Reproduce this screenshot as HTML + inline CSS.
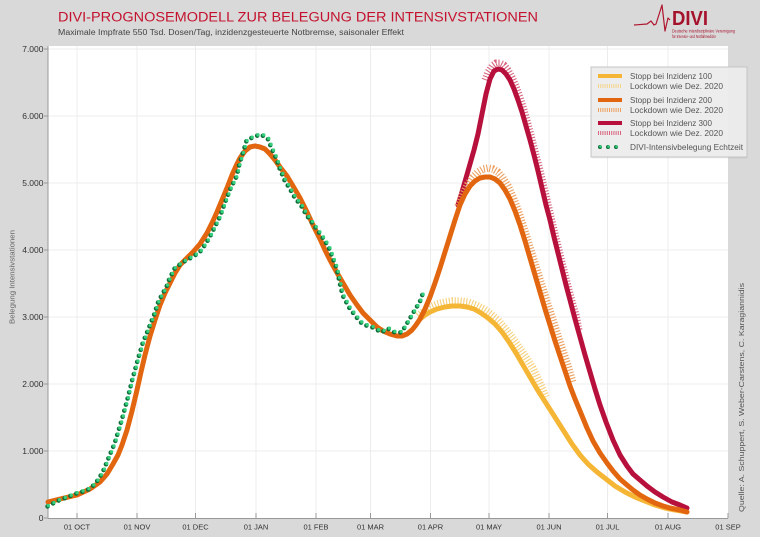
<!DOCTYPE html>
<html>
<head>
<meta charset="utf-8">
<style>
html,body{margin:0;padding:0;background:#d9d9d9;}
svg{display:block;}
text{font-family:"Liberation Sans",Arial,sans-serif;}
</style>
</head>
<body>
<svg width="760" height="537" viewBox="0 0 760 537" xmlns="http://www.w3.org/2000/svg">
<rect x="0" y="0" width="760" height="537" fill="#d9d9d9"/>
<!-- Title -->
<text x="58" y="21.5" font-size="13.5" fill="#c4122e" textLength="480" lengthAdjust="spacingAndGlyphs">DIVI-PROGNOSEMODELL ZUR BELEGUNG DER INTENSIVSTATIONEN</text>
<text x="58" y="35" font-size="8" fill="#444" textLength="346" lengthAdjust="spacingAndGlyphs">Maximale Impfrate 550 Tsd. Dosen/Tag, inzidenzgesteuerte Notbremse, saisonaler Effekt</text>
<!-- Logo -->
<polyline points="634,25 647,24 651,21 654,25 656,24 662,5 665,31 668,18 670,20" fill="none" stroke="#b0152e" stroke-width="1.2" stroke-linejoin="round"/>
<text x="672" y="25" font-size="20" font-weight="bold" fill="#a5122c" textLength="36" lengthAdjust="spacingAndGlyphs">DIVI</text>
<text x="672" y="32.5" font-size="4.2" fill="#a5122c" textLength="63" lengthAdjust="spacingAndGlyphs">Deutsche Interdisziplinäre Vereinigung</text>
<text x="672" y="38" font-size="4.2" fill="#a5122c" textLength="44" lengthAdjust="spacingAndGlyphs">für Intensiv- und Notfallmedizin</text>

<!-- Plot area -->
<rect x="48" y="46" width="680" height="472" fill="#ffffff"/>
<g stroke="#ececec" stroke-width="1">
<line x1="77" y1="46" x2="77" y2="518"/>
<line x1="137" y1="46" x2="137" y2="518"/>
<line x1="195.5" y1="46" x2="195.5" y2="518"/>
<line x1="256" y1="46" x2="256" y2="518"/>
<line x1="316" y1="46" x2="316" y2="518"/>
<line x1="370.5" y1="46" x2="370.5" y2="518"/>
<line x1="430.5" y1="46" x2="430.5" y2="518"/>
<line x1="489" y1="46" x2="489" y2="518"/>
<line x1="549" y1="46" x2="549" y2="518"/>
<line x1="607.5" y1="46" x2="607.5" y2="518"/>
<line x1="668" y1="46" x2="668" y2="518"/>
<line x1="48" y1="451" x2="728" y2="451"/>
<line x1="48" y1="384" x2="728" y2="384"/>
<line x1="48" y1="317" x2="728" y2="317"/>
<line x1="48" y1="250" x2="728" y2="250"/>
<line x1="48" y1="183" x2="728" y2="183"/>
<line x1="48" y1="116" x2="728" y2="116"/>
<line x1="48" y1="49" x2="728" y2="49"/>
</g>
<!-- axes -->
<g stroke="#999" stroke-width="1">
<line x1="48" y1="46" x2="48" y2="518.5"/>
<line x1="48" y1="518.5" x2="728" y2="518.5"/>
<line x1="44" y1="49" x2="48" y2="49"/>
<line x1="44" y1="116" x2="48" y2="116"/>
<line x1="44" y1="183" x2="48" y2="183"/>
<line x1="44" y1="250" x2="48" y2="250"/>
<line x1="44" y1="317" x2="48" y2="317"/>
<line x1="44" y1="384" x2="48" y2="384"/>
<line x1="44" y1="451" x2="48" y2="451"/>
<line x1="44" y1="518" x2="48" y2="518"/>
<line x1="77" y1="513" x2="77" y2="518"/>
<line x1="137" y1="513" x2="137" y2="518"/>
<line x1="195.5" y1="513" x2="195.5" y2="518"/>
<line x1="256" y1="513" x2="256" y2="518"/>
<line x1="316" y1="513" x2="316" y2="518"/>
<line x1="370.5" y1="513" x2="370.5" y2="518"/>
<line x1="430.5" y1="513" x2="430.5" y2="518"/>
<line x1="489" y1="513" x2="489" y2="518"/>
<line x1="549" y1="513" x2="549" y2="518"/>
<line x1="607.5" y1="513" x2="607.5" y2="518"/>
<line x1="668" y1="513" x2="668" y2="518"/>
<line x1="728" y1="513" x2="728" y2="518"/>
</g>
<!-- y labels -->
<g font-size="8.5" fill="#333" text-anchor="end">
<text x="43.5" y="52">7.000</text>
<text x="43.5" y="119">6.000</text>
<text x="43.5" y="186">5.000</text>
<text x="43.5" y="253">4.000</text>
<text x="43.5" y="320">3.000</text>
<text x="43.5" y="387">2.000</text>
<text x="43.5" y="454">1.000</text>
<text x="43.5" y="521">0</text>
</g>
<!-- x labels -->
<g font-size="7.5" fill="#333" text-anchor="middle">
<text x="77" y="529.5">01 OCT</text>
<text x="137" y="529.5">01 NOV</text>
<text x="195.5" y="529.5">01 DEC</text>
<text x="256" y="529.5">01 JAN</text>
<text x="316" y="529.5">01 FEB</text>
<text x="370.5" y="529.5">01 MAR</text>
<text x="430.5" y="529.5">01 APR</text>
<text x="489" y="529.5">01 MAY</text>
<text x="549" y="529.5">01 JUN</text>
<text x="607.5" y="529.5">01 JUL</text>
<text x="668" y="529.5">01 AUG</text>
<text x="728" y="529.5">01 SEP</text>
</g>
<!-- axis titles -->
<text transform="translate(14.5,324) rotate(-90)" font-size="7.5" fill="#666" textLength="94" lengthAdjust="spacingAndGlyphs">Belegung Intensivstationen</text>
<text transform="translate(744,512) rotate(-90)" font-size="7.5" fill="#555" textLength="229" lengthAdjust="spacingAndGlyphs">Quelle: A. Schuppert, S. Weber-Carstens, C. Karagiannidis</text>

<!-- Yellow (Inzidenz 100) -->
<polyline fill="none" stroke="#f6cf78" stroke-width="7.5" stroke-dasharray="1.1 1.8" points="418,316 424,311 430,307 437,304 445,302 452,301 460,301 468,302 476,305 484,309 491,314 498,320 505,328 512,337 519,347 526,357 533,368 540,383 546,397"/>
<polyline fill="none" stroke="#f5b636" stroke-width="5" stroke-linejoin="round" stroke-linecap="round" points="420,319 425,315 430,312 437,309 445,307 452,306 460,306 467,307 474,309 481,313 488,318 495,324 502,332 509,342 516,353 523,365 530,377 537,389 544,400 551,411 558,422 565,433 572,444 580,455 588,464 597,472 606,479 615,486 625,492 635,497 645,501 655,505 665,508 675,510 687,512"/>

<!-- Red (Inzidenz 300) -->
<polyline fill="none" stroke="#d8647e" stroke-width="7" stroke-dasharray="1.1 1.8" points="485,80 488,72 492,66 496,63 500,63 504,65 508,70 512,77 516,86 520,97 524,110 528,124 532,139 536,155 540,170 544,187 548,204 552,221 556,238 560,254 564,270 568,286 572,301 576,315 579,330"/>
<polyline fill="none" stroke="#b8103c" stroke-width="5" stroke-linejoin="round" stroke-linecap="round" points="458,205 462,192 466,178 470,164 474,150 478,134 482,114 486,94 490,79 494,71 498,69 502,70 506,74 510,80 514,89 518,100 522,112 526,126 530,140 534,155 538,171 542,188 546,205 550,220 554,237 558,253 562,269 566,285 570,300 575,319 580,337 585,355 590,372 595,389 600,405 606,422 613,440 620,455 627,466 633,474 640,480 647,486 655,492 663,497 672,502 680,505 687,508"/>

<!-- Orange (Inzidenz 200) -->
<polyline fill="none" stroke="#eda060" stroke-width="7.5" stroke-dasharray="1.1 1.8" points="458,206 463,194 468,184 473,177 478,172 483,169 488,168 493,169 498,172 503,178 508,186 513,197 518,210 523,225 528,241 533,257 538,273 543,289 548,305 553,320 558,336 563,351 568,366 573,383"/>
<polyline fill="none" stroke="#e2660f" stroke-width="5" stroke-linejoin="round" stroke-linecap="round" points="48,502 60,499 77,495 90,489 100,482 107,474 113,464 118,455 122,445 127,430 132,411 137,390 141,372 145,355 150,336 155,320 160,305 165,293 170,283 175,273 180,265 186,259 193,252 200,244 207,233 212,223 217,212 222,200 227,188 232,175 236,166 240,158 245,151 250,147 255,146 260,147 265,149 270,154 275,160 280,167 287,176 293,186 300,198 307,212 313,225 320,239 325,250 330,260 336,271 343,283 350,295 357,305 363,313 370,320 377,327 383,331 390,334 397,336 402,336 407,334 412,330 416,325 420,319 425,309 430,297 435,283 440,268 445,252 450,236 455,220 460,205 465,194 470,186 475,181 480,178 485,177 490,177 495,179 500,183 505,190 510,199 515,211 520,225 525,241 530,258 535,275 540,292 545,309 550,325 555,341 560,356 565,371 570,386 575,399 580,411 587,428 593,441 600,453 607,463 613,471 620,479 627,485 633,490 640,495 647,499 655,503 663,506 670,508 680,510 687,512"/>

<!-- Green dots (DIVI Echtzeit) -->
<polyline fill="none" stroke="#0f6e3a" stroke-width="4.6" stroke-linecap="round" stroke-dasharray="0 6.3" transform="translate(-0.4,0.4)" points="48,506 57,501 67,497 77,493 87,490 92,487 98,480 103,472 110,455 115,443 122,420 128,398 133,378 138,360 143,343 149,328 155,313 158,303 162,295 167,286 170,278 175,268 183,262 192,257 200,252 205,245 210,237 215,227 220,217 227,198 231,188 237,176 240,163 244,150 247,140 253,137 261,134 268,138 272,148 277,159 280,168 285,180 290,188 295,197 302,206 307,215 313,223 320,233 325,240 330,249 334,260 337,268 340,282 343,295 350,308 357,317 363,324 373,327 382,332 388,328 395,332 402,332 408,322 415,310 420,302 424,291"/>
<polyline fill="none" stroke="#35d07e" stroke-width="3.4" stroke-linecap="round" stroke-dasharray="0 6.3" transform="translate(0.4,-0.4)" points="48,506 57,501 67,497 77,493 87,490 92,487 98,480 103,472 110,455 115,443 122,420 128,398 133,378 138,360 143,343 149,328 155,313 158,303 162,295 167,286 170,278 175,268 183,262 192,257 200,252 205,245 210,237 215,227 220,217 227,198 231,188 237,176 240,163 244,150 247,140 253,137 261,134 268,138 272,148 277,159 280,168 285,180 290,188 295,197 302,206 307,215 313,223 320,233 325,240 330,249 334,260 337,268 340,282 343,295 350,308 357,317 363,324 373,327 382,332 388,328 395,332 402,332 408,322 415,310 420,302 424,291"/>

<!-- Legend -->
<rect x="592.5" y="68.5" width="155" height="90" fill="#000" opacity="0.06"/>
<rect x="591" y="67" width="156" height="90" fill="#ececec" fill-opacity="0.95" stroke="#c4c4c4" stroke-width="1"/>
<line x1="598" y1="76" x2="622" y2="76" stroke="#f5b636" stroke-width="4"/>
<line x1="598" y1="86" x2="622" y2="86" stroke="#f6d58a" stroke-width="4" stroke-dasharray="1 1.2"/>
<line x1="598" y1="100" x2="622" y2="100" stroke="#e2660f" stroke-width="4"/>
<line x1="598" y1="110" x2="622" y2="110" stroke="#eda060" stroke-width="4" stroke-dasharray="1 1.2"/>
<line x1="598" y1="123" x2="622" y2="123" stroke="#b8103c" stroke-width="4"/>
<line x1="598" y1="133" x2="622" y2="133" stroke="#d8647e" stroke-width="4" stroke-dasharray="1 1.2"/>
<line x1="600" y1="147" x2="622" y2="147" stroke="#0f6e3a" stroke-width="4" stroke-linecap="round" stroke-dasharray="0 8"/>
<line x1="600.5" y1="146.5" x2="622.5" y2="146.5" stroke="#35d07e" stroke-width="2.6" stroke-linecap="round" stroke-dasharray="0 8"/>
<g font-size="8" fill="#555">
<text x="630" y="79" textLength="82" lengthAdjust="spacingAndGlyphs">Stopp bei Inzidenz 100</text>
<text x="630" y="89" textLength="93" lengthAdjust="spacingAndGlyphs">Lockdown wie Dez. 2020</text>
<text x="630" y="103" textLength="82" lengthAdjust="spacingAndGlyphs">Stopp bei Inzidenz 200</text>
<text x="630" y="113" textLength="93" lengthAdjust="spacingAndGlyphs">Lockdown wie Dez. 2020</text>
<text x="630" y="126" textLength="82" lengthAdjust="spacingAndGlyphs">Stopp bei Inzidenz 300</text>
<text x="630" y="136" textLength="93" lengthAdjust="spacingAndGlyphs">Lockdown wie Dez. 2020</text>
<text x="630" y="150" textLength="113" lengthAdjust="spacingAndGlyphs">DIVI-Intensivbelegung Echtzeit</text>
</g>
</svg>
</body>
</html>
